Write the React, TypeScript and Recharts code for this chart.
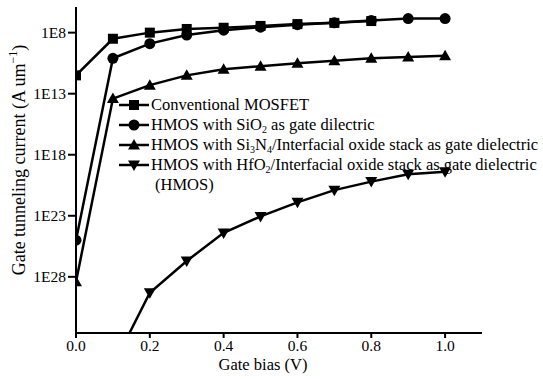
import React from "react"
import { LineChart, Line, XAxis, YAxis } from "recharts"

// exponent values (axis labels are written as 1E<n>)
const bias = [0, 0.1, 0.2, 0.3, 0.4, 0.5, 0.6, 0.7, 0.8, 0.9, 1.0]
const conventional = [11.5, 8.5, 8.0, 7.7, 7.6, 7.45, 7.3, 7.2, 7.05, null, null]
const hmosSiO2 = [25.0, 10.1, 8.9, 8.2, 7.8, 7.55, 7.35, 7.2, 7.0, 6.85, 6.85]
const hmosSi3N4 = [28.4, 13.4, 12.3, 11.5, 11.0, 10.75, 10.5, 10.3, 10.1, 10.0, 9.9]
const hmosHfO2 = [null, 35.3, 29.3, 26.7, 24.4, 23.05, 21.9, 20.9, 20.2, 19.6, 19.4]

const xTicks = [0, 0.2, 0.4, 0.6, 0.8, 1.0]
const yTicks = [8, 13, 18, 23, 28]

const data = bias.map((b, i) => ({
  bias: b,
  conv: conventional[i],
  sio2: hmosSiO2[i],
  si3n4: hmosSi3N4[i],
  hfo2: hmosHfO2[i],
}))

const FONT = "Liberation Serif, DejaVu Serif, serif"

type Shape = "square" | "circle" | "up" | "down"

function markerPath(shape: Shape, cx: number, cy: number) {
  switch (shape) {
    case "square":
      return <rect x={cx - 5} y={cy - 5} width={10} height={10} fill="#000" />
    case "circle":
      return <circle cx={cx} cy={cy} r={5.5} fill="#000" />
    case "up":
      return <polygon points={`${cx},${cy - 6} ${cx + 6},${cy + 4.5} ${cx - 6},${cy + 4.5}`} fill="#000" />
    case "down":
      return <polygon points={`${cx},${cy + 6} ${cx + 6},${cy - 4.5} ${cx - 6},${cy - 4.5}`} fill="#000" />
  }
}

const dotFor = (shape: Shape) => (props: any) => {
  const { cx, cy, index } = props
  if (cx == null || cy == null || props.value == null) return <g key={`${shape}-${index}`} />
  return <g key={`${shape}-${index}`}>{markerPath(shape, cx, cy)}</g>
}

const legendRows: { shape: Shape; label: React.ReactNode }[] = [
  { shape: "square", label: "Conventional MOSFET" },
  { shape: "circle", label: <>HMOS with SiO<sub>2</sub> as gate dilectric</> },
  { shape: "up", label: <>HMOS with Si<sub>3</sub>N<sub>4</sub>/Interfacial oxide stack as gate dielectric</> },
  { shape: "down", label: <>HMOS with HfO<sub>2</sub>/Interfacial oxide stack as gate dielectric</> },
]

const subStyle = `sub{font-size:10px;vertical-align:-3px;line-height:0}`

function ChartLegend() {
  return (
    <div style={{ position: "absolute", left: 117, top: 94.5, fontFamily: FONT, fontSize: 16.5, color: "#000", whiteSpace: "nowrap" }}>
      <style>{subStyle}</style>
      {legendRows.map((r, i) => (
        <div key={i} style={{ display: "flex", alignItems: "center", height: 20 }}>
          <svg width={34} height={20}>
            <line x1={2} y1={10} x2={32} y2={10} stroke="#000" strokeWidth={2.5} />
            {markerPath(r.shape, 17, 10)}
          </svg>
          <span>{r.label}</span>
        </div>
      ))}
      <div style={{ height: 20, paddingLeft: 38, lineHeight: "20px" }}>(HMOS)</div>
    </div>
  )
}

export default function App() {
  return (
    <div style={{ position: "absolute", left: 0, top: 0, width: 543, height: 379, background: "#fff" }}>
      <LineChart width={543} height={379} data={data} margin={{ top: 7, right: 61, bottom: 0, left: 0 }}>
        <XAxis
          dataKey="bias"
          type="number"
          domain={[0, 1.1]}
          ticks={xTicks}
          allowDataOverflow
          tickFormatter={(v: number) => v.toFixed(1)}
          height={46}
          stroke="#000"
          strokeWidth={2}
          tickSize={5}
          tick={{ fill: "#000", fontSize: 15.5, fontFamily: FONT }}
          label={{
            content: () => (
              <text x={263} y={370} textAnchor="middle" fontSize={16.5} fontFamily={FONT} fill="#000">
                Gate bias (V)
              </text>
            ),
          }}
        />
        <YAxis
          type="number"
          reversed
          domain={[5.9, 32.6]}
          ticks={yTicks}
          allowDataOverflow
          tickFormatter={(v: number) => `1E${v}`}
          width={76}
          stroke="#000"
          strokeWidth={2}
          tickSize={8}
          tick={{ fill: "#000", fontSize: 15.5, fontFamily: FONT }}
          label={{
            content: () => (
              <text
                x={21}
                y={160}
                transform="rotate(-90 21 160)"
                textAnchor="middle"
                dominantBaseline="middle"
                fontSize={18}
                fontFamily={FONT}
                fill="#000"
              >
                Gate tunneling current (A um<tspan dy={-7} fontSize={12}>−1</tspan>
                <tspan dy={7}>)</tspan>
              </text>
            ),
          }}
        />
        <Line dataKey="sio2" stroke="#000" strokeWidth={2.5} dot={dotFor("circle")} isAnimationActive={false} />
        <Line dataKey="conv" stroke="#000" strokeWidth={2.5} dot={dotFor("square")} isAnimationActive={false} />
        <Line dataKey="si3n4" stroke="#000" strokeWidth={2.5} dot={dotFor("up")} isAnimationActive={false} />
        <Line dataKey="hfo2" stroke="#000" strokeWidth={2.5} dot={dotFor("down")} isAnimationActive={false} />
      </LineChart>
      <ChartLegend />
    </div>
  )
}
